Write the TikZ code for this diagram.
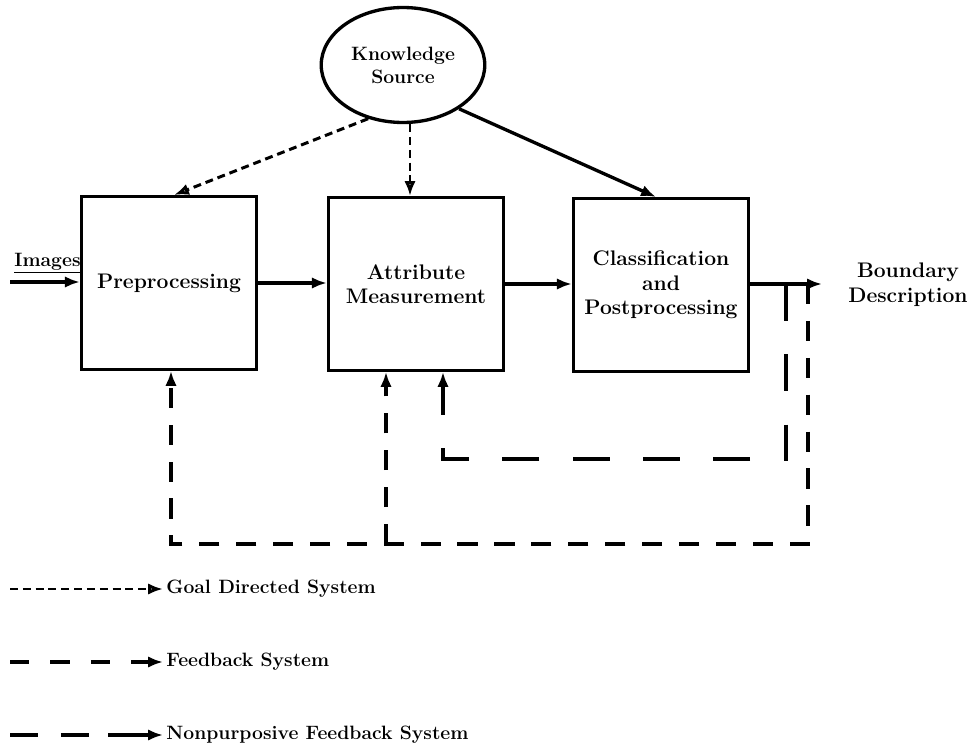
\documentclass[tikz,border=0pt]{standalone}
\usetikzlibrary{arrows.meta,shapes.geometric}
\tikzstyle{every path}=[line width=1.9pt]
\tikzstyle{stage}=[draw, minimum width=3.5cm, minimum height=3.45cm, align=center, font=\large\bfseries, inner sep=1pt]
\tikzstyle{source}=[draw, ellipse, minimum width=3.2cm, minimum height=2.3cm, align=center, font=\fontsize{11}{13}\selectfont\bfseries]
\tikzstyle{tag}=[align=center, font=\large\bfseries, inner sep=1pt]
\tikzstyle{legend}=[anchor=west, font=\fontsize{11}{13}\selectfont\bfseries, inner sep=1pt]
\tikzstyle{flow}=[-{Latex[length=8.5pt, width=6.5pt]}]
\tikzstyle{goal}=[-{Latex[open, length=8.5pt, width=6.5pt]}, dash pattern=on 4.5pt off 2.8pt, line width=1.7pt]
\tikzstyle{feedback}=[-{Latex[length=8.5pt, width=6.5pt]}, dash pattern=on 11.5pt off 9.5pt, line width=2pt]
\tikzstyle{nonpurpose}=[-{Latex[length=8.5pt, width=6.5pt]}, dash pattern=on 21pt off 19pt, line width=2pt]

\begin{document}
\begin{tikzpicture}[x=0.02cm, y=-0.02cm]
            \useasboundingbox (0,0) rectangle (977,750);

            % blocks
            \node[source] (know) at (403,65) {Knowledge\\Source};
            \node[stage] (pre) at (169,283) {Preprocessing};
            \node[stage] (attr) at (416,284) {Attribute\\Measurement};
            \node[stage] (class) at (661,285) {Classification\\and\\Postprocessing};
            \node[tag] (bound) at (908,285) {Boundary\\Description};
            \node[tag, font=\fontsize{11}{13}\selectfont\bfseries, anchor=south west] (img) at (11,277) {\underline{Images}};

            \coordinate (in) at (10,282);
            \coordinate (out) at (822,284);
            \coordinate (tapA) at (786,284);
            \coordinate (cornA) at (786,459);
            \coordinate (cornB) at (443,459);
            \coordinate (tapB) at (808,284);
            \coordinate (cornC) at (808,544);
            \coordinate (cornD) at (171,544);
            \coordinate (branch) at (386,544);

            % main flow
            \draw[flow] (in) -- (in -| pre.west);
            \draw[flow] (pre.east |- 0,283) -- (attr.west |- 0,283);
            \draw[flow] (attr.east |- 0,284) -- (class.west |- 0,284);
            \draw[flow] (class.east |- out) -- (out);

            % knowledge source
            \draw[goal] (know.237) -- (174,195);
            \draw[goal] (know.south -| 410,0) -- (410,196);
            \draw[flow] (know.-38) -- (656,197);

            % feedback loops
            \draw[nonpurpose] (tapA) -- (cornA) -- (cornB) -- (cornB |- attr.south);
            \draw[feedback] (tapB) -- (cornC) -- (cornD) -- (cornD |- pre.south);
            \draw[feedback] (branch) -- (branch |- attr.south);

            % legend
            \node[legend] (goaltxt) at (163,589) {Goal Directed System};
            \node[legend] (fbtxt) at (163,662) {Feedback System};
            \node[legend] (nptxt) at (163,735) {Nonpurposive Feedback System};
            \coordinate (g0) at (10,589);
            \coordinate (f0) at (10,662);
            \coordinate (n0) at (10,735);
            \draw[goal] (g0) -- (goaltxt.west);
            \draw[feedback, dash pattern=on 11pt off 12pt] (f0) -- (fbtxt.west);
            \draw[nonpurpose, dash pattern=on 16pt off 13pt on 16pt off 11pt on 40pt off 0pt] (n0) -- (nptxt.west);
        \end{tikzpicture}
\end{document}
